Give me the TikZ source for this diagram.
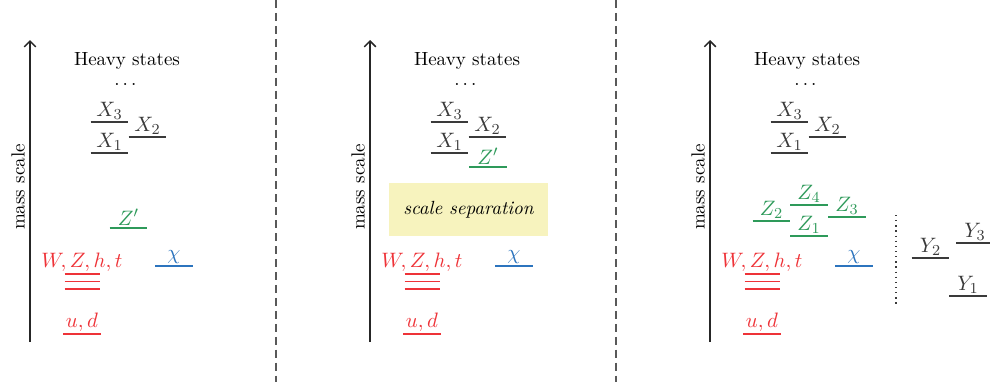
\documentclass[tikz,border=0pt]{standalone}
\usepackage{amsmath,amssymb}
\usepackage{tikz}
\usetikzlibrary{arrows.meta,positioning}
\definecolor{LevRed}{HTML}{EE3338}
\definecolor{LevGreen}{HTML}{2E9A5A}
\definecolor{LevBlue}{HTML}{2C74BE}
\definecolor{LevGray}{HTML}{3A3A3A}
\definecolor{SepYellow}{HTML}{F7F3BE}

\tikzset{
  lev/.style={inner sep=1.2pt, anchor=south, minimum width=19.5pt, font=\fontsize{11}{13}\selectfont},
  levline/.style={line width=0.95pt},
  axis/.style={line width=0.8pt, black!85, -{Straight Barb[length=3pt,width=6pt]}},
  sepline/.style={line width=1pt, black!65, dash pattern=on 4.2pt off 2.6pt},
}
% one mass level: name, x, y, colour, label
\newcommand{\level}[5]{%
  \node[lev, text=#4] (#1) at (#2,#3) {#5};
  \draw[#4, levline] (#1.south west) -- (#1.south east);}

\begin{document}
\begin{tikzpicture}[x=0.525pt, y=-0.525pt]
\useasboundingbox (0,0) rectangle (990,385);

% Panel separators
\coordinate (sepAtop) at (276,0);
\coordinate (sepAbot) at (276,382);
\coordinate (sepBtop) at (616,0);
\coordinate (sepBbot) at (616,382);
\draw[sepline] (sepAtop) -- (sepAbot);
\draw[sepline] (sepBtop) -- (sepBbot);

% What the three panels share
\foreach \s/\p in {0/a, 340/b, 680/c} {
  \begin{scope}[shift={(\s,0)}]
    \coordinate (bot\p) at (30,342);
    \coordinate (top\p) at (30,40);
    \draw[axis] (bot\p) -- (top\p);
    \node[rotate=90] (mass\p) at (18,187) {mass scale};
    \node[inner sep=1pt] (heavy\p) at (127,61) {Heavy states};
    \node[inner sep=0.5pt] (dots\p) at (127,84) {$\dots$};
    \level{Xthree\p}{109.5}{122}{LevGray}{$X_3$}
    \level{Xone\p}{109.5}{153}{LevGray}{$X_1$}
    \level{Xtwo\p}{147.5}{137}{LevGray}{$X_2$}
    \level{chi\p}{174}{266}{LevBlue}{$\chi$}
    \level{ud\p}{82}{334}{LevRed}{$u, d$}
    % W, Z, h, t with its three close levels
    \node[text=LevRed, font=\fontsize{11}{13}\selectfont] (sm\p) at (82,262) {$W, Z, h, t$};
    \foreach \y in {274, 281.5, 289}
      \draw[LevRed, levline] (64.5,\y) -- ++(35,0);
  \end{scope}
}

% Panel 1
\level{Zp}{128.5}{228}{LevGreen}{$Z'$}

% Panel 2
\level{Zpb}{488}{167}{LevGreen}{$Z'$}
\node[fill=SepYellow, minimum width=83.5pt, minimum height=27.8pt] (gap) at (468.5,209.5) {\itshape scale separation};

% Panel 3
\level{Ztwo}{771.5}{221}{LevGreen}{$Z_2$}
\level{Zfour}{809}{205}{LevGreen}{$Z_4$}
\level{Zone}{809}{236}{LevGreen}{$Z_1$}
\level{Zthree}{847}{217}{LevGreen}{$Z_3$}
\coordinate (dotTop) at (896,215);
\coordinate (dotBot) at (896,304);
\draw[LevGray, line width=0.7pt, dotted] (dotTop) -- (dotBot);
\level{Ytwo}{930.5}{258}{LevGray}{$Y_2$}
\level{Ythree}{975}{243}{LevGray}{$Y_3$}
\level{Yone}{968}{296}{LevGray}{$Y_1$}
\end{tikzpicture}
\end{document}
